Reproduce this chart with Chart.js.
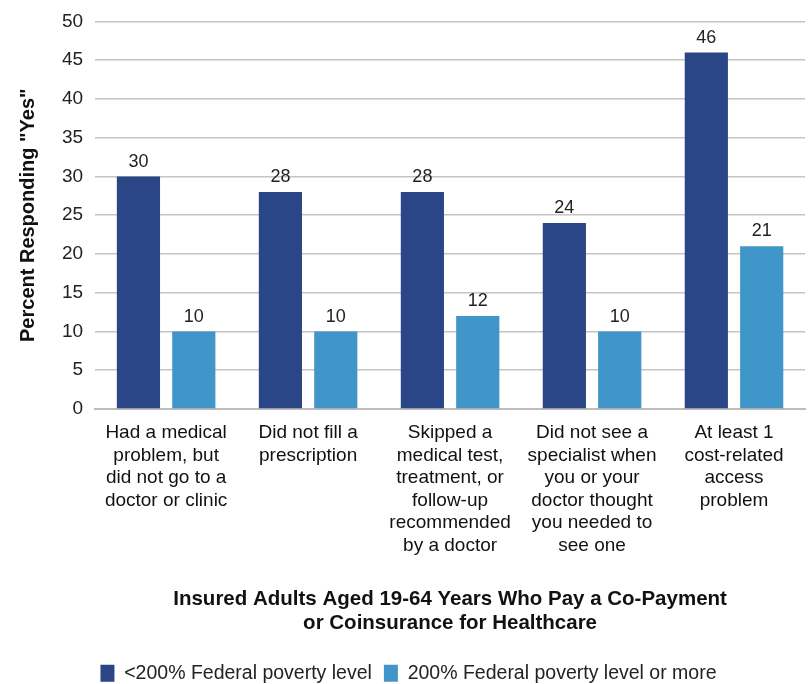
<!DOCTYPE html>
<html>
<head>
<meta charset="utf-8">
<script src="https://cdn.jsdelivr.net/npm/chart.js@4"></script>
<style>
  body { margin: 0; background: #fff; }
  #wrap { width: 809px; height: 684px; }
</style>
</head>
<body>
<div id="wrap"><canvas id="chart"></canvas></div>
<script>
// categories (multi-line labels)
const categories = [
  ['Had a medical', 'problem, but', 'did not go to a', 'doctor or clinic'],
  ['Did not fill a', 'prescription'],
  ['Skipped a', 'medical test,', 'treatment, or', 'follow-up', 'recommended', 'by a doctor'],
  ['Did not see a', 'specialist when', 'you or your', 'doctor thought', 'you needed to', 'see one'],
  ['At least 1', 'cost-related', 'access', 'problem']
];
const seriesNames = ['<200% Federal poverty level', '200% Federal poverty level or more'];
const lowIncome = [30, 28, 28, 24, 46];
const higherIncome = [10, 10, 12, 10, 21];
const yTicks = [0, 5, 10, 15, 20, 25, 30, 35, 40, 45, 50];

const font = 'Liberation Sans, Arial, Helvetica, sans-serif';

// draws the value above each bar
const valueLabels = {
  id: 'valueLabels',
  afterDatasetsDraw(chart) {
    const ctx = chart.ctx;
    ctx.save();
    ctx.font = '18px ' + font;
    ctx.fillStyle = '#222';
    ctx.textAlign = 'center';
    ctx.textBaseline = 'alphabetic';
    chart.data.datasets.forEach((ds, i) => {
      chart.getDatasetMeta(i).data.forEach((bar, j) => {
        ctx.fillText(ds.data[j], bar.x, bar.y - 10);
      });
    });
    ctx.restore();
  }
};

new Chart(document.getElementById('chart'), {
  type: 'bar',
  data: {
    labels: categories,
    datasets: [
      { label: seriesNames[0], data: lowIncome, backgroundColor: '#2a4687' },
      { label: seriesNames[1], data: higherIncome, backgroundColor: '#4196c9' }
    ]
  },
  options: {
    responsive: true,
    maintainAspectRatio: false,
    animation: false,
    layout: { padding: { top: 8, right: 4, left: 12, bottom: -9 } },
    datasets: { bar: { categoryPercentage: 0.78, barPercentage: 0.78 } },
    plugins: {
      legend: {
        position: 'bottom',
        labels: {
          color: '#222',
          font: { family: font, size: 19.5 },
          boxWidth: 14,
          boxHeight: 17,
          padding: 12
        }
      },
      tooltip: { enabled: false }
    },
    scales: {
      x: {
        grid: { display: false },
        border: { display: true, color: '#bdbdbd', width: 2 },
        ticks: {
          color: '#111',
          font: { family: font, size: 19, lineHeight: 1.18 },
          maxRotation: 0,
          autoSkip: false,
          padding: 5
        },
        title: {
          display: true,
          text: ['Insured Adults Aged 19-64 Years Who Pay a Co-Payment', 'or Coinsurance for Healthcare'],
          color: '#111',
          font: { family: font, size: 20.5, weight: 'bold', lineHeight: 1.17 },
          padding: { top: 26, bottom: 16 }
        }
      },
      y: {
        min: 0,
        max: 50,
        afterBuildTicks(axis) { axis.ticks = yTicks.map(v => ({ value: v })); },
        grid: { color: '#c4c4c4', lineWidth: 1.6, drawTicks: false },
        border: { display: false },
        ticks: {
          color: '#222',
          font: { family: font, size: 19, lineHeight: 1.0 },
          padding: 12
        },
        title: {
          display: true,
          text: 'Percent Responding "Yes"',
          color: '#111',
          font: { family: font, size: 20, weight: 'bold' },
          padding: { top: 4, bottom: 10 }
        }
      }
    }
  },
  plugins: [valueLabels]
});
</script>
</body>
</html>
